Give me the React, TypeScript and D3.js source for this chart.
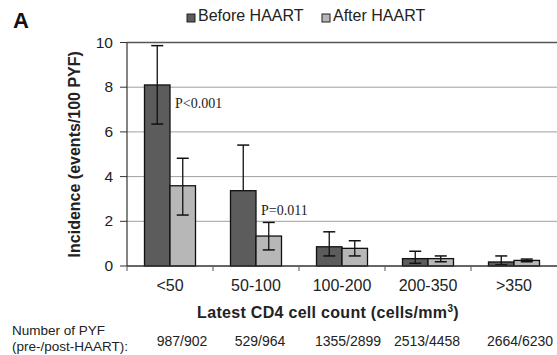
import React, { useEffect, useRef } from "react";
import * as d3 from "d3";

const categories = ["<50", "50-100", "100-200", "200-350", ">350"];
const before = [8.1, 3.37, 0.86, 0.33, 0.18];
const beforeLow = [6.35, 3.37, 0.45, 0.12, 0.05];
const beforeHigh = [9.86, 5.41, 1.53, 0.66, 0.45];
const after = [3.59, 1.34, 0.79, 0.33, 0.25];
const afterLow = [2.28, 0.72, 0.45, 0.19, 0.19];
const afterHigh = [4.82, 1.95, 1.13, 0.45, 0.31];
const yTicks = [0, 2, 4, 6, 8, 10];
const pyf = ["987/902", "529/964", "1355/2899", "2513/4458", "2664/6230"];
const pValues = [
  { cat: "<50", label: "P<0.001", y: 7.05 },
  { cat: "50-100", label: "P=0.011", y: 2.3 },
];

const W = 557;
const H = 355;

export default function App() {
  const svgRef = useRef<SVGSVGElement>(null);

  useEffect(() => {
    const svg = d3.select(svgRef.current);
    svg.selectAll("*").remove();

    const x = d3.scaleBand().domain(categories).range([127, 557]).padding(0);
    const y = d3.scaleLinear().domain([0, 10]).range([266, 42.5]);
    const bw = 25.5;

    const font = "'Liberation Sans', Arial, sans-serif";

    // gridlines
    svg
      .append("g")
      .selectAll("line")
      .data(yTicks.filter((d) => d > 0 && d < 10))
      .enter()
      .append("line")
      .attr("x1", 127)
      .attr("x2", W)
      .attr("y1", (d) => y(d))
      .attr("y2", (d) => y(d))
      .attr("stroke", "#a0a0a0")
      .attr("stroke-width", 1);

    // top border + left border
    svg
      .append("line")
      .attr("x1", 127)
      .attr("x2", W)
      .attr("y1", y(10))
      .attr("y2", y(10))
      .attr("stroke", "#555")
      .attr("stroke-width", 1.5);
    svg
      .append("line")
      .attr("x1", 127)
      .attr("x2", 127)
      .attr("y1", y(10))
      .attr("y2", y(0))
      .attr("stroke", "#333")
      .attr("stroke-width", 1.2);

    // y ticks
    const yAxis = svg.append("g");
    yTicks.forEach((t) => {
      yAxis
        .append("line")
        .attr("x1", 120)
        .attr("x2", 127)
        .attr("y1", y(t))
        .attr("y2", y(t))
        .attr("stroke", "#333");
      yAxis
        .append("text")
        .attr("x", 113)
        .attr("y", y(t) + 5)
        .attr("text-anchor", "end")
        .attr("font-family", font)
        .attr("font-size", 15.5)
        .attr("fill", "#222")
        .text(t);
    });

    // bars
    const g = svg.append("g");
    categories.forEach((c, i) => {
      const cx = (x(c) as number) + x.bandwidth() / 2;
      const series = [
        { v: before[i], lo: beforeLow[i], hi: beforeHigh[i], x0: cx - bw, fill: "#5c5c5c" },
        { v: after[i], lo: afterLow[i], hi: afterHigh[i], x0: cx, fill: "#b7b7b7" },
      ];
      series.forEach((s) => {
        g.append("rect")
          .attr("x", s.x0)
          .attr("y", y(s.v))
          .attr("width", bw)
          .attr("height", y(0) - y(s.v))
          .attr("fill", s.fill)
          .attr("stroke", "#111")
          .attr("stroke-width", 1.3);
        const ex = s.x0 + bw / 2;
        g.append("line")
          .attr("x1", ex)
          .attr("x2", ex)
          .attr("y1", y(s.hi))
          .attr("y2", y(s.lo))
          .attr("stroke", "#111")
          .attr("stroke-width", 1.3);
        g.append("line")
          .attr("x1", ex - 6)
          .attr("x2", ex + 6)
          .attr("y1", y(s.hi))
          .attr("y2", y(s.hi))
          .attr("stroke", "#111")
          .attr("stroke-width", 1.5);
        if (s.lo < s.v) {
          g.append("line")
            .attr("x1", ex - 6)
            .attr("x2", ex + 6)
            .attr("y1", y(s.lo))
            .attr("y2", y(s.lo))
            .attr("stroke", "#111")
            .attr("stroke-width", 1.5);
        }
      });
    });

    // x axis
    svg
      .append("line")
      .attr("x1", 127)
      .attr("x2", W)
      .attr("y1", y(0))
      .attr("y2", y(0))
      .attr("stroke", "#333")
      .attr("stroke-width", 1.5);
    categories.forEach((c) => {
      svg
        .append("line")
        .attr("x1", x(c) as number)
        .attr("x2", x(c) as number)
        .attr("y1", y(0))
        .attr("y2", y(0) + 5)
        .attr("stroke", "#555");
      svg
        .append("text")
        .attr("x", (x(c) as number) + x.bandwidth() / 2)
        .attr("y", 291)
        .attr("text-anchor", "middle")
        .attr("font-family", font)
        .attr("font-size", 16)
        .attr("fill", "#222")
        .text(c);
    });

    // p values
    pValues.forEach((p) => {
      svg
        .append("text")
        .attr("x", (x(p.cat) as number) + x.bandwidth() / 2 + 5)
        .attr("y", y(p.y))
        .attr("font-family", "'Liberation Serif', 'Times New Roman', serif")
        .attr("font-size", 14)
        .attr("fill", "#222")
        .text(p.label);
    });

    // axis titles
    svg
      .append("text")
      .attr("transform", `translate(80,${(y(0) + y(10)) / 2}) rotate(-90)`)
      .attr("text-anchor", "middle")
      .attr("font-family", font)
      .attr("font-size", 16)
      .attr("font-weight", "bold")
      .attr("fill", "#222")
      .text("Incidence (events/100 PYF)");

    const xt = svg
      .append("text")
      .attr("x", 328)
      .attr("y", 318)
      .attr("text-anchor", "middle")
      .attr("font-family", font)
      .attr("font-size", 16)
      .attr("font-weight", "bold")
      .attr("letter-spacing", 0.3)
      .attr("fill", "#222");
    xt.append("tspan").text("Latest CD4 cell count (cells/mm");
    xt.append("tspan").attr("font-size", 10).attr("dy", -6).text("3");
    xt.append("tspan").attr("dy", 6).text(")");

    // PYF row
    svg
      .append("text")
      .attr("x", 12)
      .attr("y", 335)
      .attr("font-family", font)
      .attr("font-size", 13.5)
      .attr("fill", "#222")
      .text("Number of PYF");
    svg
      .append("text")
      .attr("x", 12)
      .attr("y", 351)
      .attr("font-family", font)
      .attr("font-size", 13.5)
      .attr("fill", "#222")
      .text("(pre-/post-HAART):");
    const pyfShift = [12, 4, 6, -1, 6];
    pyf.forEach((t, i) => {
      svg
        .append("text")
        .attr("x", (x(categories[i]) as number) + x.bandwidth() / 2 + pyfShift[i])
        .attr("y", 346)
        .attr("text-anchor", "middle")
        .attr("font-family", font)
        .attr("font-size", 14)
        .attr("fill", "#222")
        .text(t);
    });

    // legend
    const legend = [
      { label: "Before HAART", fill: "#5c5c5c", x: 187 },
      { label: "After HAART", fill: "#b7b7b7", x: 322 },
    ];
    legend.forEach((l) => {
      svg
        .append("rect")
        .attr("x", l.x)
        .attr("y", 14)
        .attr("width", 8)
        .attr("height", 8)
        .attr("fill", l.fill)
        .attr("stroke", "#222");
      svg
        .append("text")
        .attr("x", l.x + 11)
        .attr("y", 21)
        .attr("font-family", font)
        .attr("font-size", 16)
        .attr("fill", "#222")
        .text(l.label);
    });

    svg
      .append("text")
      .attr("x", 13)
      .attr("y", 28)
      .attr("font-family", font)
      .attr("font-size", 22)
      .attr("font-weight", "bold")
      .attr("fill", "#111")
      .text("A");
  }, []);

  return (
    <svg
      ref={svgRef}
      width={W}
      height={H}
      style={{ position: "absolute", left: 0, top: 0, background: "#fff" }}
    />
  );
}
